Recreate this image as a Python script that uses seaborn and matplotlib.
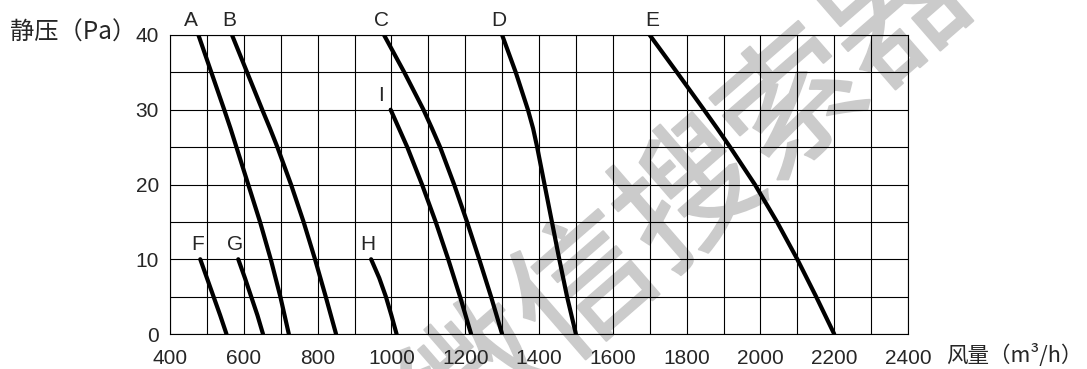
import matplotlib
matplotlib.use("Agg")
import matplotlib.pyplot as plt
import matplotlib.patheffects as pe
import seaborn as sns
import pandas as pd

# static pressure levels (Pa) and air volume (m3/h)
pressure_long = [40, 35, 30, 27.5, 25, 20, 15, 10, 5, 0]
pressure_i = [30, 25, 20, 15, 10, 5, 0]
pressure_short = [10, 7.5, 5, 2.5, 0]

flow_a = [477, 512, 547, 564, 580, 612, 644, 673, 699, 722]
flow_b = [568, 609, 650, 671, 691, 728, 762, 793, 822, 850]
flow_c = [980, 1035, 1087, 1110, 1132, 1170, 1205, 1238, 1270, 1300]
flow_d = [1300, 1337, 1370, 1384, 1395, 1415, 1435, 1455, 1476, 1500]
flow_e = [1700, 1774, 1847, 1883, 1918, 1985, 2045, 2100, 2151, 2200]
flow_f = [482, 500, 518, 536, 553]
flow_g = [585, 603, 620, 637, 652]
flow_h = [945, 967, 985, 1000, 1014]
flow_i = [998, 1043, 1083, 1120, 1154, 1186, 1216]

curve_names = ["A", "B", "C", "D", "E", "F", "G", "H", "I"]
curve_flows = [flow_a, flow_b, flow_c, flow_d, flow_e, flow_f, flow_g, flow_h, flow_i]
curve_pressures = [pressure_long] * 5 + [pressure_short] * 3 + [pressure_i]

x_ticks = list(range(400, 2401, 200))
y_ticks = [0, 10, 20, 30, 40]

sns.set_theme(style="white")
plt.rcParams["font.family"] = ["Liberation Sans", "Noto Sans CJK SC", "DejaVu Sans"]
cjk = ["Noto Sans CJK SC", "DejaVu Sans"]

fig = plt.figure(figsize=(10.87, 3.69), dpi=100)
ax = fig.add_axes([170 / 1087, 35 / 369, 738 / 1087, 299 / 369])

# watermark behind everything
wm_color = "#cbcbcb"
ax.text(692 / 1087, 1 - 200 / 369, "微信搜索器", transform=fig.transFigure,
        family=cjk, fontsize=100, color=wm_color,
        rotation=41, rotation_mode="anchor", ha="center", va="center",
        clip_on=False, zorder=0,
        path_effects=[pe.withStroke(linewidth=1.5, foreground=wm_color)])

frames = []
for name, fl, pr in zip(curve_names, curve_flows, curve_pressures):
    frames.append(pd.DataFrame({"flow": fl, "pressure": pr, "curve": name}))
df = pd.concat(frames, ignore_index=True)

# small label nudges in pixels
nudge = {"A": -8, "I": -10, "E": 3}

for name in curve_names:
    sub = df[df["curve"] == name]
    sns.lineplot(data=sub, x="flow", y="pressure", ax=ax, color="black",
                 linewidth=3.0, estimator=None, sort=False, legend=False,
                 zorder=5, solid_capstyle="round", solid_joinstyle="round")
    top = sub.iloc[0]
    ax.annotate(name, (top["flow"], top["pressure"]),
                xytext=(nudge.get(name, -3), 5),
                textcoords="offset pixels", ha="center", va="bottom",
                fontsize=15, annotation_clip=False, zorder=6)

ax.set_xlim(400, 2400)
ax.set_ylim(0, 40)
ax.set_xticks(x_ticks)
ax.set_xticks(range(400, 2401, 100), minor=True)
ax.set_yticks(y_ticks)
ax.set_yticks(range(0, 41, 5), minor=True)
ax.grid(True, which="both", color="black", linewidth=0.8)
ax.set_axisbelow(True)
for s in ax.spines.values():
    s.set_color("black")
    s.set_linewidth(0.8)
ax.tick_params(axis="both", which="both", length=0)
ax.tick_params(axis="x", pad=11, labelsize=15)
ax.tick_params(axis="y", pad=8, labelsize=15)
ax.set_xlabel("")
ax.set_ylabel("")

fig.text(10 / 1087, 1 - 33 / 369, "静压（Pa）", family=cjk, fontsize=17.5,
         ha="left", va="center")
fig.text(946 / 1087, 1 - 356 / 369, "风量（m³/h）", family=cjk, fontsize=15.5,
         ha="left", va="center")

fig.savefig("out.png", dpi=100)
